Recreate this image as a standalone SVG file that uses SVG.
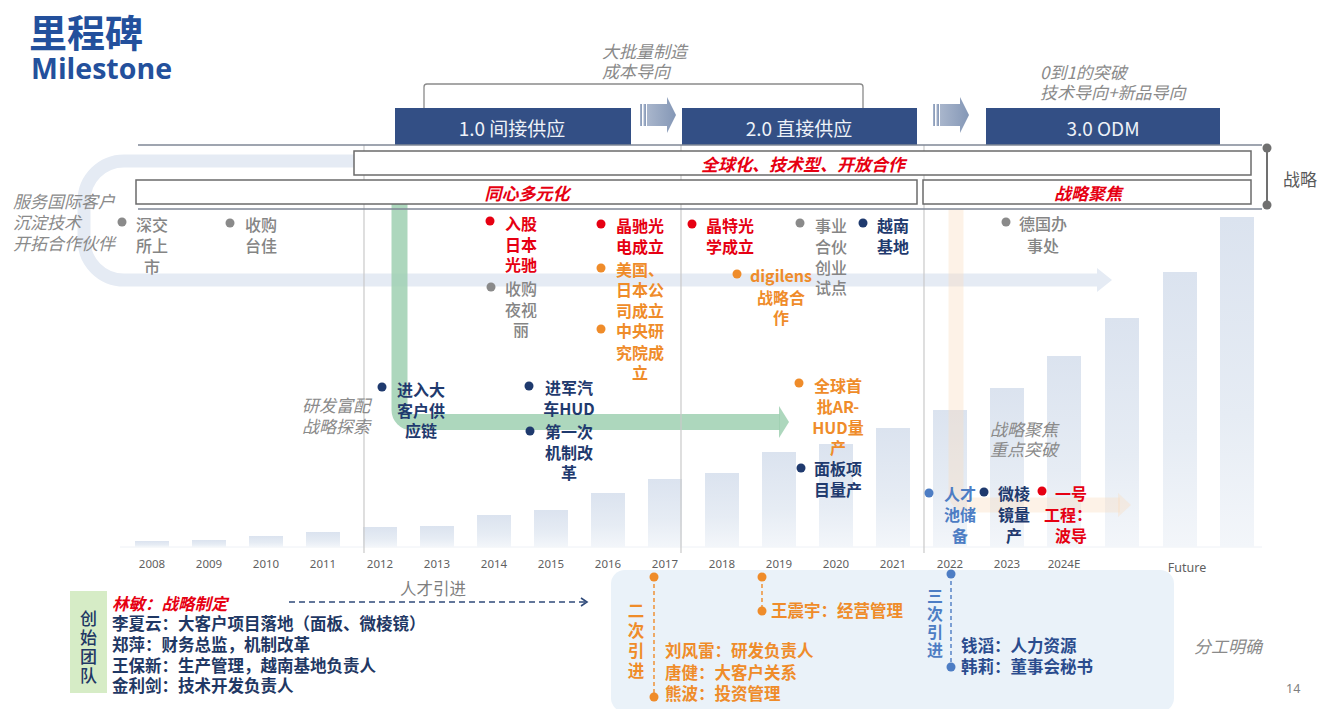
<svg xmlns="http://www.w3.org/2000/svg" width="1321" height="709" viewBox="0 0 1321 709">
<defs>
<linearGradient id="barG" x1="0" y1="0" x2="0" y2="1">
<stop offset="0" stop-color="#dbe3ef"/>
<stop offset="0.6" stop-color="#e6ecf4"/>
<stop offset="1" stop-color="#f3f6fa"/>
</linearGradient>
<linearGradient id="arrG" x1="0" y1="0" x2="1" y2="0">
<stop offset="0" stop-color="#a9b6cc"/>
<stop offset="1" stop-color="#8497b6"/>
</linearGradient>
<marker id="chev" viewBox="0 0 10 10" refX="8" refY="5" markerWidth="10" markerHeight="10" markerUnits="userSpaceOnUse" orient="auto">
<path d="M2 1 L8 5 L2 9" fill="none" stroke="#2f4a7a" stroke-width="1.6"/>
</marker>
</defs>
<style>
text { font-family: "Noto Sans CJK SC", "Noto Sans", sans-serif; }
.ms { font-size:16px; font-weight:700; text-anchor:middle; dominant-baseline:central; }
.g { fill:#858585; font-weight:500; }
.r { fill:#e60012; }
.o { fill:#ef8c2a; }
.n { fill:#1f3a6e; }
.lb { fill:#4d7dc4; }
.dg { fill:#8a8a8a; }
.dr { fill:#e60012; }
.do { fill:#ef8c2a; }
.dn { fill:#1f3a6e; }
.dl { fill:#4d7dc4; }
.note { font-size:17px; font-style:italic; fill:#8a8a8a; dominant-baseline:central; }
.yr { font-family:"Noto Sans", sans-serif; font-size:11.5px; fill:#5f5f5f; text-anchor:middle; dominant-baseline:central; }
.bar { fill:url(#barG); }
.topbox { fill:#334f85; }
.toptxt { font-size:19px; fill:#eef2f8; text-anchor:middle; dominant-baseline:central; }
.strat { fill:#ffffff; stroke:#6b6b6b; stroke-width:1.5; }
.strtxt { font-size:17px; font-weight:700; font-style:italic; fill:#e60012; text-anchor:middle; dominant-baseline:central; }
.div { stroke:#c9c9c9; stroke-width:1.2; }
.team { font-size:16.5px; font-weight:700; fill:#1f3864; dominant-baseline:central; }
.hire { font-size:16.5px; font-weight:700; dominant-baseline:central; }
</style>
<rect width="1321" height="709" fill="#ffffff"/>

<!-- title -->
<g id="title">
<text x="29" y="30" style="font-size:38px;font-weight:700;fill:#23509c;dominant-baseline:central">里程碑</text>
<text x="31" y="79" textLength="141" lengthAdjust="spacingAndGlyphs" style="font-family:'Open Sans','Noto Sans',sans-serif;font-size:29px;font-weight:700;fill:#23509c">Milestone</text>
</g>

<!-- bars -->
<g id="bars">
<line x1="120" y1="547" x2="1262" y2="547" stroke="#eef1f6" stroke-width="1"/>
<rect class="bar" x="135" y="541" width="34" height="6"/>
<rect class="bar" x="192" y="540" width="34" height="7"/>
<rect class="bar" x="249" y="536" width="34" height="11"/>
<rect class="bar" x="306" y="532" width="34" height="15"/>
<rect class="bar" x="363" y="527" width="34" height="20"/>
<rect class="bar" x="420" y="526" width="34" height="21"/>
<rect class="bar" x="477" y="515" width="34" height="32"/>
<rect class="bar" x="534" y="510" width="34" height="37"/>
<rect class="bar" x="591" y="493" width="34" height="54"/>
<rect class="bar" x="648" y="479" width="34" height="68"/>
<rect class="bar" x="705" y="473" width="34" height="74"/>
<rect class="bar" x="762" y="452" width="34" height="95"/>
<rect class="bar" x="819" y="444" width="34" height="103"/>
<rect class="bar" x="876" y="428" width="34" height="119"/>
<rect class="bar" x="933" y="410" width="34" height="137"/>
<rect class="bar" x="990" y="388" width="34" height="159"/>
<rect class="bar" x="1047" y="356" width="34" height="191"/>
<rect class="bar" x="1105" y="318" width="34" height="229"/>
<rect class="bar" x="1163" y="272" width="34" height="275"/>
<rect class="bar" x="1220" y="217" width="34" height="330"/>
</g>

<!-- years -->
<g id="years">
<text class="yr" x="152" y="563">2008</text>
<text class="yr" x="209" y="563">2009</text>
<text class="yr" x="266" y="563">2010</text>
<text class="yr" x="323" y="563">2011</text>
<text class="yr" x="380" y="563">2012</text>
<text class="yr" x="437" y="563">2013</text>
<text class="yr" x="494" y="563">2014</text>
<text class="yr" x="551" y="563">2015</text>
<text class="yr" x="608" y="563">2016</text>
<text class="yr" x="665" y="563">2017</text>
<text class="yr" x="722" y="563">2018</text>
<text class="yr" x="779" y="563">2019</text>
<text class="yr" x="836" y="563">2020</text>
<text class="yr" x="893" y="563">2021</text>
<text class="yr" x="950" y="563">2022</text>
<text class="yr" x="1007" y="563">2023</text>
<text class="yr" x="1064" y="563">2024E</text>
<text class="yr" x="1187" y="567" style="font-size:12.5px">Future</text>
</g>

<!-- connectors / bands -->
<g id="connectors">
<path d="M365 161 H124 A40 40 0 0 0 84 201 V240 A40 40 0 0 0 124 280 H1099" fill="none" stroke="#e5ebf4" stroke-width="13"/>
<polygon points="1097,268 1112,280 1097,292" fill="#e5ebf4"/>
<path d="M956 209 V493 A12 12 0 0 0 968 505 H1120" fill="none" stroke="#f9dcc0" stroke-opacity="0.38" stroke-width="15"/>
<polygon points="1118,493 1131,505 1118,517" fill="#f9dcc0" fill-opacity="0.38"/>
<path d="M399.5 204 V410 A12 12 0 0 0 411.5 422 H780" fill="none" stroke="#9fd0b2" stroke-opacity="0.85" stroke-width="16"/>
<polygon points="779,406 789,422 779,438" fill="#9fd0b2" fill-opacity="0.85"/>
<line class="div" x1="364" y1="145" x2="364" y2="553"/>
<line class="div" x1="681" y1="145" x2="681" y2="553"/>
<line class="div" x1="924" y1="145" x2="924" y2="553"/>
<line x1="289" y1="602" x2="587" y2="602" stroke="#2f4a7a" stroke-width="1.4" stroke-dasharray="6 4" marker-end="url(#chev)"/>
</g>

<!-- phase boxes -->
<g id="phases">
<path d="M424 110 V87 Q424 84 427 84 H860 Q863 84 863 87 V110" fill="none" stroke="#8a8a8a" stroke-width="1.3"/>
<text class="note" x="602" y="50">大批量制造</text>
<text class="note" x="602" y="70">成本导向</text>
<text class="note" x="1040" y="71">0到1的突破</text>
<text class="note" x="1040" y="91">技术导向+新品导向</text>
<g id="phase1"><rect class="topbox" x="395" y="108" width="236" height="37"/><text class="toptxt" x="512" y="127">1.0 间接供应</text></g>
<g id="phase2"><rect class="topbox" x="682" y="108" width="235" height="37"/><text class="toptxt" x="799" y="127">2.0 直接供应</text></g>
<g id="phase3"><rect class="topbox" x="986" y="108" width="234" height="37"/><text class="toptxt" x="1103" y="127">3.0 ODM</text></g>
<g id="arrow1" fill="url(#arrG)">
<rect x="640" y="104" width="2" height="22"/><rect x="643.5" y="104" width="2.5" height="22"/>
<polygon points="647,104 667,104 667,97 676,115 667,133 667,126 647,126"/>
</g>
<g id="arrow2" fill="url(#arrG)">
<rect x="933" y="104" width="2" height="22"/><rect x="936.5" y="104" width="2.5" height="22"/>
<polygon points="940,104 960,104 960,97 969,115 960,133 960,126 940,126"/>
</g>
</g>

<!-- strategy rows -->
<g id="strategy">
<line x1="138" y1="145" x2="1262" y2="145" stroke="#7f8796" stroke-width="1.5"/>
<line x1="138" y1="209" x2="1262" y2="209" stroke="#7f8796" stroke-width="1.5"/>
<g id="s-global"><rect class="strat" x="354" y="151" width="897" height="24"/><text class="strtxt" x="803" y="163">全球化、技术型、开放合作</text></g>
<g id="s-concentric"><rect class="strat" x="136" y="180" width="781" height="24"/><text class="strtxt" x="527" y="192">同心多元化</text></g>
<g id="s-focus"><rect class="strat" x="923" y="180" width="328" height="24"/><text class="strtxt" x="1088" y="192">战略聚焦</text></g>
<g id="s-bracket">
<line x1="1267" y1="148" x2="1267" y2="205" stroke="#707070" stroke-width="2"/>
<circle cx="1267" cy="148" r="4.5" fill="#707070"/>
<circle cx="1267" cy="205" r="4.5" fill="#707070"/>
<text x="1283" y="178" style="font-size:17px;fill:#595959;dominant-baseline:central">战略</text>
</g>
</g>

<!-- notes -->
<g id="notes">
<text class="note" x="13" y="200">服务国际客户</text>
<text class="note" x="13" y="221">沉淀技术</text>
<text class="note" x="13" y="242">开拓合作伙伴</text>
<text class="note" x="302" y="404">研发富配</text>
<text class="note" x="302" y="425">战略探索</text>
<text class="note" x="990" y="428">战略聚焦</text>
<text class="note" x="990" y="448">重点突破</text>
</g>

<!-- milestones -->
<g id="m-szse"><circle class="dg" cx="122" cy="222" r="4.5"/><text class="ms g"><tspan x="152" y="224">深交</tspan><tspan x="152" y="245">所上</tspan><tspan x="152" y="266">市</tspan></text></g>
<g id="m-taijia"><circle class="dg" cx="230" cy="223" r="4.5"/><text class="ms g"><tspan x="261" y="224">收购</tspan><tspan x="261" y="245">台佳</tspan></text></g>
<g id="m-guangchi"><circle class="dr" cx="490" cy="221" r="4.5"/><text class="ms r"><tspan x="521" y="223">入股</tspan><tspan x="521" y="244">日本</tspan><tspan x="521" y="264">光驰</tspan></text></g>
<g id="m-yeshili"><circle class="dg" cx="491" cy="287" r="4.5"/><text class="ms g"><tspan x="521" y="288">收购</tspan><tspan x="521" y="309">夜视</tspan><tspan x="521" y="329">丽</tspan></text></g>
<g id="m-jingchi"><circle class="dr" cx="601" cy="224" r="4.5"/><text class="ms r"><tspan x="640" y="225">晶驰光</tspan><tspan x="640" y="246">电成立</tspan></text></g>
<g id="m-usjp"><circle class="do" cx="601" cy="268" r="4.5"/><text class="ms o"><tspan x="640" y="269">美国、</tspan><tspan x="640" y="289">日本公</tspan><tspan x="640" y="310">司成立</tspan></text></g>
<g id="m-central"><circle class="do" cx="601" cy="329" r="4.5"/><text class="ms o"><tspan x="640" y="330">中央研</tspan><tspan x="640" y="352">究院成</tspan><tspan x="640" y="372">立</tspan></text></g>
<g id="m-jingte"><circle class="dr" cx="692" cy="224" r="4.5"/><text class="ms r"><tspan x="730" y="225">晶特光</tspan><tspan x="730" y="246">学成立</tspan></text></g>
<g id="m-digilens"><circle class="do" cx="737" cy="274" r="4.5"/><text class="ms o"><tspan x="781" y="275">digilens</tspan><tspan x="781" y="297">战略合</tspan><tspan x="781" y="317">作</tspan></text></g>
<g id="m-partner"><circle class="dg" cx="800" cy="223" r="4.5"/><text class="ms g"><tspan x="831" y="225">事业</tspan><tspan x="831" y="246">合伙</tspan><tspan x="831" y="267">创业</tspan><tspan x="831" y="287">试点</tspan></text></g>
<g id="m-vietnam"><circle class="dn" cx="863" cy="223" r="4.5"/><text class="ms n"><tspan x="893" y="225">越南</tspan><tspan x="893" y="246">基地</tspan></text></g>
<g id="m-germany"><circle class="dg" cx="1006" cy="222" r="4.5"/><text class="ms g"><tspan x="1043" y="223">德国办</tspan><tspan x="1043" y="245">事处</tspan></text></g>
<g id="m-bigclient"><circle class="dn" cx="382" cy="387" r="4.5"/><text class="ms n"><tspan x="421" y="389">进入大</tspan><tspan x="421" y="410">客户供</tspan><tspan x="421" y="430">应链</tspan></text></g>
<g id="m-hud"><circle class="dn" cx="529" cy="386" r="4.5"/><text class="ms n"><tspan x="569" y="387">进军汽</tspan><tspan x="569" y="408">车HUD</tspan></text></g>
<g id="m-reform"><circle class="dn" cx="530" cy="431" r="4.5"/><text class="ms n"><tspan x="569" y="431">第一次</tspan><tspan x="569" y="452">机制改</tspan><tspan x="569" y="472">革</tspan></text></g>
<g id="m-arhud"><circle class="do" cx="799" cy="383" r="4.5"/><text class="ms o"><tspan x="838" y="385">全球首</tspan><tspan x="838" y="406">批AR-</tspan><tspan x="838" y="427">HUD量</tspan><tspan x="838" y="447">产</tspan></text></g>
<g id="m-panel"><circle class="dn" cx="801" cy="468" r="4.5"/><text class="ms n"><tspan x="838" y="468">面板项</tspan><tspan x="838" y="489">目量产</tspan></text></g>
<g id="m-talent"><circle class="dl" cx="929" cy="493" r="4.5"/><text class="ms lb"><tspan x="960" y="493">人才</tspan><tspan x="960" y="514">池储</tspan><tspan x="960" y="535">备</tspan></text></g>
<g id="m-prism"><circle class="dn" cx="984" cy="492" r="4.5"/><text class="ms n"><tspan x="1014" y="493">微棱</tspan><tspan x="1014" y="514">镜量</tspan><tspan x="1014" y="535">产</tspan></text></g>
<g id="m-waveguide"><circle class="dr" cx="1042" cy="491" r="4.5"/><text class="ms r"><tspan x="1071" y="493">一号</tspan><tspan x="1068" y="514">工程：</tspan><tspan x="1071" y="535">波导</tspan></text></g>

<!-- founding team -->
<g id="founders">
<rect x="70" y="591" width="37" height="102" fill="#d6ecc6"/>
<text style="font-size:17px;font-weight:500;fill:#1f3864;text-anchor:middle;dominant-baseline:central"><tspan x="88.5" y="617">创</tspan><tspan x="88.5" y="636">始</tspan><tspan x="88.5" y="655">团</tspan><tspan x="88.5" y="674">队</tspan></text>
<text class="team" x="112" y="603" style="fill:#e60012;font-style:italic">林敏：战略制定</text>
<text class="team" x="112" y="623">李夏云：大客户项目落地（面板、微棱镜）</text>
<text class="team" x="112" y="644">郑萍：财务总监，机制改革</text>
<text class="team" x="112" y="665">王保新：生产管理，越南基地负责人</text>
<text class="team" x="112" y="685">金利剑：技术开发负责人</text>
<text x="400" y="588" style="font-size:16.5px;fill:#7f7f7f;dominant-baseline:central">人才引进</text>
</g>

<!-- hires -->
<g id="hires">
<rect x="611" y="570" width="563" height="142" rx="14" fill="#eaf2f9"/>
<g id="hire2">
<line x1="654" y1="577" x2="654" y2="697" stroke="#ef8c2a" stroke-width="1.4" stroke-dasharray="4 3"/>
<circle cx="654" cy="577" r="4.5" fill="#ef8c2a"/>
<circle cx="654" cy="697" r="4.5" fill="#ef8c2a"/>
<text class="hire o" style="text-anchor:middle"><tspan x="636" y="610">二</tspan><tspan x="636" y="630">次</tspan><tspan x="636" y="650">引</tspan><tspan x="636" y="670">进</tspan></text>
<text class="hire o" x="665" y="650">刘风雷：研发负责人</text>
<text class="hire o" x="665" y="672">唐健：大客户关系</text>
<text class="hire o" x="665" y="693">熊波：投资管理</text>
</g>
<g id="hire2b">
<line x1="762" y1="577" x2="762" y2="611" stroke="#ef8c2a" stroke-width="1.4" stroke-dasharray="4 3"/>
<circle cx="762" cy="577" r="4.5" fill="#ef8c2a"/>
<circle cx="762" cy="611" r="4.5" fill="#ef8c2a"/>
<text class="hire o" x="771" y="610">王震宇：经营管理</text>
</g>
<g id="hire3">
<line x1="951" y1="574" x2="951" y2="667" stroke="#4d7dc4" stroke-width="1.4" stroke-dasharray="4 3"/>
<circle cx="951" cy="574" r="4.5" fill="#4d7dc4"/>
<circle cx="951" cy="667" r="4.5" fill="#4d7dc4"/>
<text class="hire lb" style="text-anchor:middle;font-size:16px"><tspan x="935" y="595">三</tspan><tspan x="935" y="613">次</tspan><tspan x="935" y="631">引</tspan><tspan x="935" y="649">进</tspan></text>
<text class="hire" x="961" y="645" style="fill:#2a4c8e">钱滔：人力资源</text>
<text class="hire" x="961" y="666" style="fill:#2a4c8e">韩莉：董事会秘书</text>
</g>
</g>

<text class="note" x="1194" y="645">分工明确</text>
<text x="1286" y="688" style="font-family:'Noto Sans',sans-serif;font-size:12.5px;fill:#7f7f7f;dominant-baseline:central">14</text>
</svg>
